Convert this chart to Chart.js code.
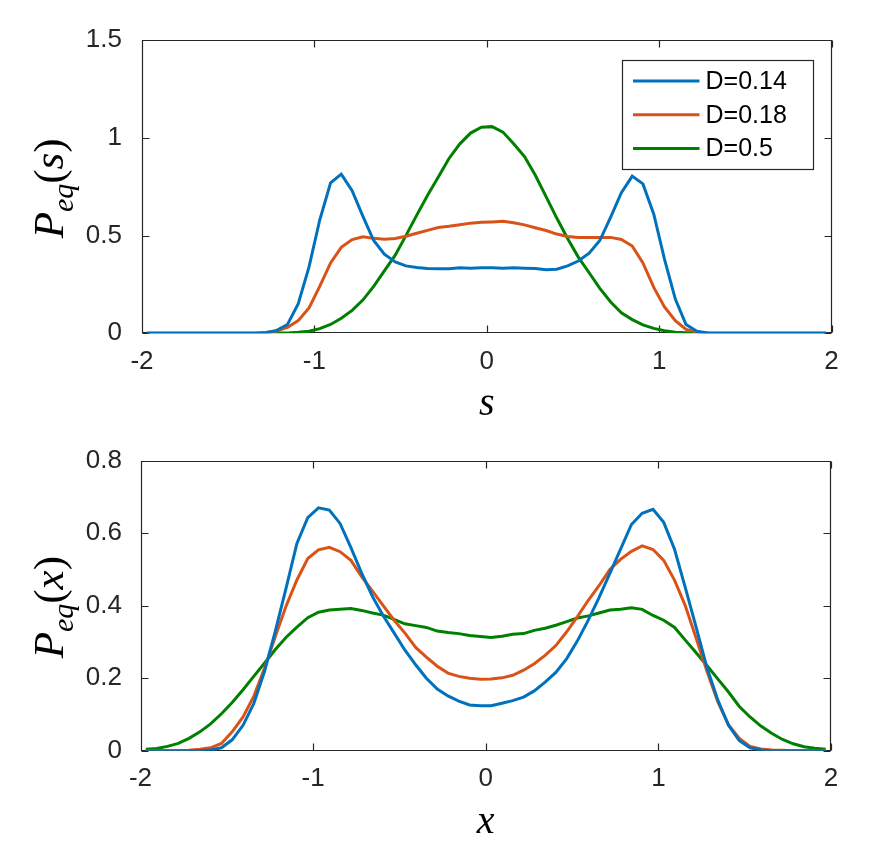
<!DOCTYPE html>
<html><head><meta charset="utf-8">
<script src="https://cdn.jsdelivr.net/npm/chart.js@4.4.1/dist/chart.umd.min.js"></script>
<style>
html,body{margin:0;padding:0;background:#fff;}
#wrap{position:relative;width:871px;height:844px;overflow:hidden;}
canvas{position:absolute;left:0;}
</style></head><body>
<div id="wrap">
<canvas id="c1" width="871" height="420" style="top:0px"></canvas>
<canvas id="c2" width="871" height="424" style="top:420px"></canvas>
</div>
<script>
// ---- data (64 bin centres on [-2, 2]) ----
const binCenters = [-1.969,-1.906,-1.844,-1.781,-1.719,-1.656,-1.594,-1.531,-1.469,-1.406,-1.344,-1.281,-1.219,-1.156,-1.094,-1.031,
  -0.969,-0.906,-0.844,-0.781,-0.719,-0.656,-0.594,-0.531,-0.469,-0.406,-0.344,-0.281,-0.219,-0.156,-0.094,-0.031,
  0.031,0.094,0.156,0.219,0.281,0.344,0.406,0.469,0.531,0.594,0.656,0.719,0.781,0.844,0.906,0.969,
  1.031,1.094,1.156,1.219,1.281,1.344,1.406,1.469,1.531,1.594,1.656,1.719,1.781,1.844,1.906,1.969];

const seriesLabels = ['D=0.14', 'D=0.18', 'D=0.5'];

// top panel: P_eq(s)
const sBlue = [0,0,0,0,0,0,0,0,0,0,0,0.003,0.015,0.045,0.15,0.34,
  0.58,0.77,0.815,0.73,0.60,0.475,0.405,0.365,0.345,0.337,0.332,0.33,0.33,0.335,0.333,0.335,
  0.335,0.333,0.335,0.333,0.332,0.325,0.328,0.345,0.37,0.41,0.475,0.595,0.72,0.805,0.765,0.61,
  0.38,0.175,0.045,0.01,0.002,0,0,0,0,0,0,0,0,0,0,0];
const sOrange = [0,0,0,0,0,0,0,0,0,0,0,0.004,0.012,0.03,0.065,0.13,
  0.24,0.36,0.44,0.48,0.494,0.486,0.482,0.485,0.497,0.512,0.527,0.542,0.548,0.556,0.564,0.568,
  0.570,0.573,0.566,0.555,0.540,0.526,0.508,0.496,0.491,0.490,0.491,0.491,0.480,0.447,0.36,0.235,
  0.135,0.065,0.02,0.006,0.002,0,0,0,0,0,0,0,0,0,0,0];
const sGreen = [0,0,0,0,0,0,0,0,0,0,0,0,0.001,0.002,0.005,0.011,
  0.024,0.045,0.077,0.117,0.17,0.24,0.32,0.40,0.50,0.605,0.705,0.80,0.895,0.97,1.025,1.055,
  1.058,1.03,0.97,0.905,0.81,0.70,0.59,0.485,0.39,0.31,0.23,0.16,0.105,0.07,0.043,0.025,
  0.013,0.006,0.003,0.001,0,0,0,0,0,0,0,0,0,0,0,0];

// bottom panel: P_eq(x)
const xBlue = [0,0,0,0,0,0,0.002,0.008,0.03,0.07,0.13,0.22,0.33,0.45,0.572,0.643,
  0.67,0.664,0.627,0.56,0.49,0.425,0.372,0.325,0.278,0.237,0.20,0.17,0.151,0.137,0.126,0.124,
  0.124,0.131,0.138,0.148,0.165,0.189,0.216,0.254,0.303,0.36,0.422,0.489,0.556,0.624,0.655,0.666,
  0.63,0.555,0.45,0.34,0.23,0.14,0.07,0.028,0.008,0.002,0,0,0,0,0,0];
const xOrange = [0,0,0,0,0.001,0.004,0.008,0.02,0.052,0.093,0.15,0.228,0.315,0.40,0.471,0.53,
  0.554,0.561,0.549,0.525,0.48,0.44,0.40,0.36,0.325,0.285,0.258,0.233,0.214,0.205,0.2,0.197,
  0.198,0.201,0.208,0.222,0.24,0.263,0.29,0.328,0.37,0.415,0.455,0.50,0.528,0.55,0.565,0.555,
  0.525,0.47,0.40,0.31,0.22,0.135,0.072,0.034,0.012,0.005,0.002,0.001,0,0,0,0];
const xGreen = [0.004,0.006,0.012,0.02,0.034,0.052,0.074,0.102,0.133,0.168,0.205,0.242,0.279,0.313,0.341,0.367,
  0.382,0.388,0.39,0.392,0.387,0.38,0.374,0.362,0.35,0.345,0.34,0.33,0.326,0.323,0.318,0.315,
  0.312,0.316,0.321,0.323,0.332,0.338,0.346,0.356,0.366,0.372,0.38,0.388,0.39,0.394,0.39,0.373,
  0.36,0.34,0.305,0.27,0.235,0.198,0.162,0.122,0.093,0.068,0.048,0.031,0.019,0.011,0.007,0.004];

const xTickValues = [-2, -1, 0, 1, 2];
const sYTickValues = [0, 0.5, 1, 1.5];
const xYTickValues = [0, 0.2, 0.4, 0.6, 0.8];

// ---- styles ----
const COLORS = ['#0072BD', '#D95319', '#008000'];
const SANS = '"Liberation Sans", Arial, Helvetica, sans-serif';
const SERIF = '"Liberation Serif", "Times New Roman", serif';
const AXIS = '#262626';

const boxPlugin = {
  id: 'matlabBox',
  beforeDatasetsDraw(chart) {
    const {ctx, chartArea: a, scales} = chart;
    const L = 7;
    const l = Math.round(a.left) + 0.5, r = Math.round(a.right) - 0.5;
    const t = Math.round(a.top) + 0.5, b = Math.round(a.bottom) - 0.5;
    ctx.save();
    ctx.strokeStyle = AXIS; ctx.lineWidth = 1.2;
    ctx.beginPath();
    ctx.rect(l, t, r - l, b - t);
    scales.x.ticks.forEach(tk => {
      const p = Math.round(scales.x.getPixelForValue(tk.value)) + 0.5;
      ctx.moveTo(p, b); ctx.lineTo(p, b - L);
      ctx.moveTo(p, t); ctx.lineTo(p, t + L);
    });
    scales.y.ticks.forEach(tk => {
      const p = Math.round(scales.y.getPixelForValue(tk.value)) + 0.5;
      ctx.moveTo(l, p); ctx.lineTo(l + L, p);
      ctx.moveTo(r, p); ctx.lineTo(r - L, p);
    });
    ctx.stroke();
    ctx.restore();
  }
};

const yTitlePlugin = {
  id: 'mathYTitle',
  afterDraw(chart, args, opts) {
    if (!opts || !opts.variable) return;
    const {ctx, chartArea: a} = chart;
    const F = opts.size;
    const parts = [
      {t: 'P', f: `italic ${F}px ${SERIF}`, dy: 0},
      {t: 'eq', f: `italic ${Math.round(F * 0.7)}px ${SERIF}`, dy: 0.24 * F},
      {t: '(', f: `${F}px ${SERIF}`, dy: 0},
      {t: opts.variable, f: `italic ${F}px ${SERIF}`, dy: 0},
      {t: ')', f: `${F}px ${SERIF}`, dy: 0}
    ];
    let total = 0;
    parts.forEach(p => { ctx.font = p.f; p.w = ctx.measureText(p.t).width; total += p.w; });
    ctx.save();
    ctx.translate(opts.baselineX, (a.top + a.bottom) / 2 + opts.dyCenter);
    ctx.rotate(-Math.PI / 2);
    ctx.fillStyle = '#000';
    ctx.textBaseline = 'alphabetic';
    ctx.textAlign = 'left';
    let x = -total / 2;
    parts.forEach(p => { ctx.font = p.f; ctx.fillText(p.t, x, p.dy); x += p.w; });
    ctx.restore();
  }
};

const legendPlugin = {
  id: 'boxLegend',
  afterDraw(chart, args, opts) {
    if (!opts || !opts.show) return;
    const {ctx, chartArea: a} = chart;
    const w = 191, h = 109;
    const x0 = Math.round(a.right - 19 - w) + 0.5, y0 = Math.round(a.top + 20) + 0.5;
    ctx.save();
    ctx.fillStyle = '#fff';
    ctx.fillRect(x0, y0, w, h);
    ctx.strokeStyle = AXIS; ctx.lineWidth = 1.2;
    ctx.strokeRect(x0, y0, w, h);
    chart.data.datasets.forEach((ds, i) => {
      const yy = y0 + 20.5 + i * 33.7;
      ctx.strokeStyle = ds.borderColor; ctx.lineWidth = ds.borderWidth;
      ctx.beginPath(); ctx.moveTo(x0 + 10.5, yy); ctx.lineTo(x0 + 77, yy); ctx.stroke();
      ctx.fillStyle = '#000';
      ctx.font = `25px ${SANS}`;
      ctx.textBaseline = 'middle'; ctx.textAlign = 'left';
      ctx.fillText(ds.label, x0 + 83, yy + 1);
    });
    ctx.restore();
  }
};

function makeChart(canvasId, ys, cfg) {
  const datasets = ys.map((arr, i) => ({
    label: seriesLabels[i],
    data: binCenters.map((x, k) => ({x: x, y: arr[k]})),
    borderColor: COLORS[i],
    backgroundColor: COLORS[i],
    borderWidth: 3,
    pointRadius: 0,
    tension: 0,
    fill: false
  }));
  return new Chart(document.getElementById(canvasId), {
    type: 'line',
    data: {datasets},
    plugins: [boxPlugin, yTitlePlugin, legendPlugin],
    options: {
      responsive: false,
      animation: false,
      events: [],
      layout: {padding: {top: cfg.padTop, right: cfg.padRight, left: 0, bottom: 0}},
      plugins: {
        legend: {display: false},
        tooltip: {enabled: false},
        mathYTitle: {variable: cfg.variable, size: 43, baselineX: 63, dyCenter: cfg.dyCenter},
        boxLegend: {show: cfg.legend}
      },
      scales: {
        x: {
          type: 'linear', min: -2, max: 2,
          afterBuildTicks: s => { s.ticks = xTickValues.map(v => ({value: v})); },
          afterFit: s => { s.height = cfg.xHeight; },
          grid: {display: false, drawTicks: false},
          border: {display: false},
          ticks: {color: AXIS, font: {family: SANS, size: 26}, padding: 13, maxRotation: 0, callback: v => String(v)},
          title: {display: true, text: cfg.variable, color: '#000',
                  font: {family: SERIF, size: 40, style: 'italic', lineHeight: 0.8},
                  padding: {top: 0, bottom: cfg.xTitlePad}}
        },
        y: {
          type: 'linear', min: 0, max: cfg.yMax,
          afterBuildTicks: s => { s.ticks = cfg.yTicks.map(v => ({value: v})); },
          afterFit: s => { s.width = cfg.yWidth; },
          grid: {display: false, drawTicks: false},
          border: {display: false},
          ticks: {color: AXIS, font: {family: SANS, size: 26}, padding: cfg.yPad, callback: v => String(v)}
        }
      }
    }
  });
}

makeChart('c1', [sBlue, sOrange, sGreen], {
  variable: 's', yMax: 1.5, yTicks: sYTickValues, padTop: 40.3, padRight: 39.5,
  yWidth: 142, xHeight: 86.7, yPad: 20, xTitlePad: 0, dyCenter: 1.5, legend: true
});
makeChart('c2', [xBlue, xOrange, xGreen], {
  variable: 'x', yMax: 0.8, yTicks: xYTickValues, padTop: 40.7, padRight: 40,
  yWidth: 140.5, xHeight: 93.3, yPad: 18.5, xTitlePad: 6, dyCenter: 1.5, legend: false
});
</script>
</body></html>
